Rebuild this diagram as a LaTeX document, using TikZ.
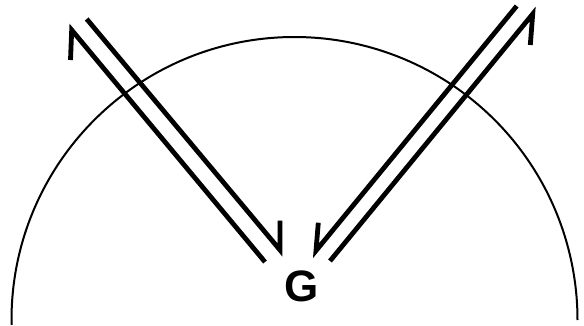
\documentclass[tikz,border=0pt]{standalone}
\usepackage{fontspec}
\setmainfont{Liberation Sans}
\usetikzlibrary{positioning}
\tikzset{
  flow/.style={draw=black, line width=4.8pt, line join=miter},
  rim/.style={draw=black, line width=2pt},
  letter/.style={font=\bfseries\fontsize{44}{44}\selectfont, inner sep=0pt}
}

\begin{document}
\begin{tikzpicture}[x=1pt, y=1pt]
\useasboundingbox (0,0) rectangle (584,325);

% the half circle
\coordinate (centre) at (294.5,5);
\draw[rim] (centre) ++(181:283) arc[start angle=181, end angle=0, radius=283];

\node[letter, anchor=base] (g) at (301.5,23.3) {G};

% left pair
\coordinate (lin) at (86.7,306);
\coordinate (lintip) at (280,75);
\coordinate (linbarb) at (280,104.5);
\coordinate (lout) at (265,63);
\coordinate (louttip) at (71.7,295);
\coordinate (loutbarb) at (70.5,265);
\draw[flow] (lin) -- (lintip) -- (linbarb);
\draw[flow] (lout) -- (louttip) -- (loutbarb);

% right pair
\coordinate (rin) at (516.7,319);
\coordinate (rintip) at (316,74.3);
\coordinate (rinbarb) at (318.3,102.3);
\coordinate (rout) at (330,64);
\coordinate (routtip) at (532.7,311);
\coordinate (routbarb) at (530.3,280);
\draw[flow] (rin) -- (rintip) -- (rinbarb);
\draw[flow] (rout) -- (routtip) -- (routbarb);

\end{tikzpicture}
\end{document}
